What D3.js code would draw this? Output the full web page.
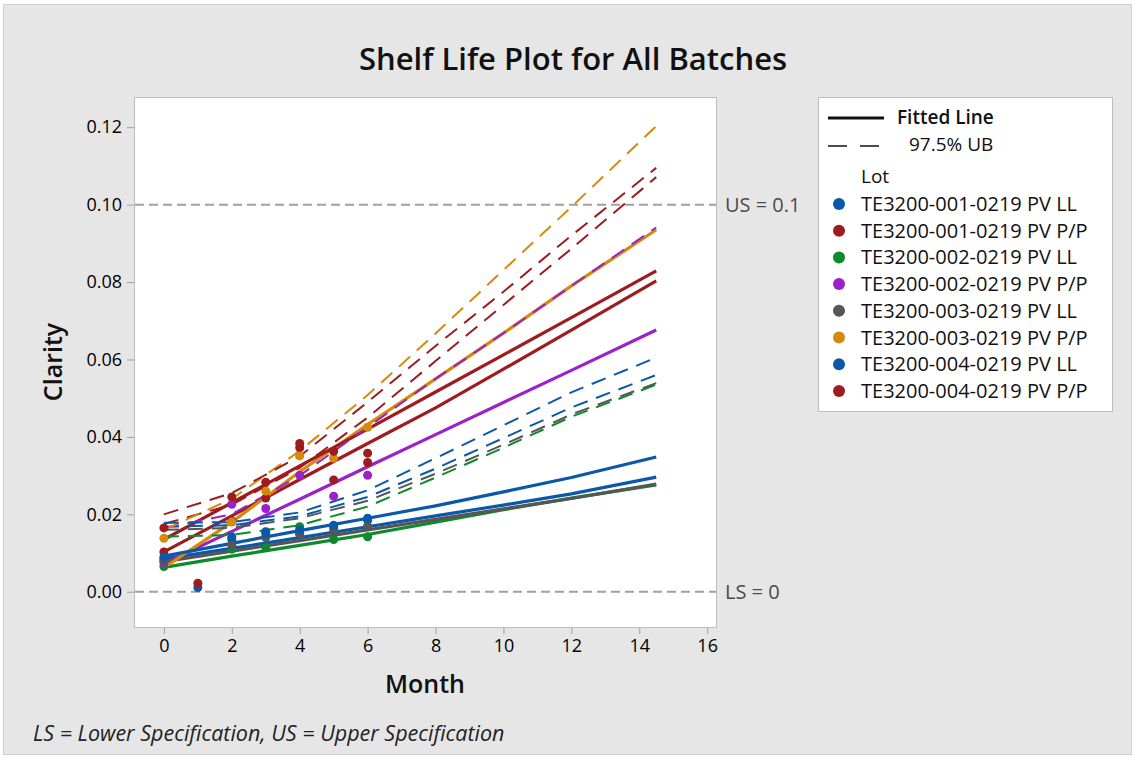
<!DOCTYPE html>
<meta charset="utf-8">
<script src="https://d3js.org/d3.v7.min.js"></script>
<style>
  body { margin: 0; background: #fff; font-family: 'Open Sans', sans-serif; }
  svg text { fill: #111; }
</style>
<div id="chart"></div>
<script>
// lots (legend order)
var lots = ["TE3200-001-0219 PV LL", "TE3200-001-0219 PV P/P", "TE3200-002-0219 PV LL",
            "TE3200-002-0219 PV P/P", "TE3200-003-0219 PV LL", "TE3200-003-0219 PV P/P",
            "TE3200-004-0219 PV LL", "TE3200-004-0219 PV P/P"];
var lotColors = ["#0b58a8", "#9e1b1e", "#0e8a2c", "#9a22c8", "#565656", "#d68a0b", "#0b58a8", "#9e1b1e"];

// observed clarity, months 0..6 (null = not measured)
var obsMonths = [0, 1, 2, 3, 4, 5, 6];
var obs001LL = [0.0085, 0.0011, 0.0135, 0.0155, 0.0150, 0.0165, 0.0185];
var obs001PP = [0.0103, 0.0022, 0.0183, 0.0242, 0.0372, 0.0289, 0.0334];
var obs002LL = [0.0065, null, 0.0110, 0.0114, 0.0168, 0.0135, 0.0142];
var obs002PP = [0.0075, null, 0.0226, 0.0215, 0.0301, 0.0247, 0.0301];
var obs003LL = [0.0080, null, 0.0120, 0.0140, 0.0150, 0.0155, 0.0170];
var obs003PP = [0.0138, null, 0.0180, 0.0260, 0.0351, 0.0345, 0.0425];
var obs004LL = [0.0090, null, 0.0142, 0.0150, 0.0160, 0.0172, 0.0190];
var obs004PP = [0.0165, null, 0.0245, 0.0283, 0.0383, 0.0363, 0.0358];

// fitted line and 97.5% upper bound, read at these months
var fitMonths = [0, 2, 4, 6, 8, 10, 12, 14.5];
var fit001LL = [0.0085, 0.0112, 0.0140, 0.0168, 0.0196, 0.0224, 0.0253, 0.0296];
var fit001PP = [0.0103, 0.0196, 0.0290, 0.0383, 0.0475, 0.0575, 0.0676, 0.0803];
var fit002LL = [0.0063, 0.0092, 0.0120, 0.0148, 0.0180, 0.0212, 0.0242, 0.0276];
var fit002PP = [0.0073, 0.0156, 0.0239, 0.0323, 0.0406, 0.0489, 0.0572, 0.0676];
var fit003LL = [0.0078, 0.0105, 0.0132, 0.0160, 0.0187, 0.0214, 0.0241, 0.0278];
var fit003PP = [0.0062, 0.0180, 0.0310, 0.0432, 0.0550, 0.0668, 0.0790, 0.0935];
var fit004LL = [0.0092, 0.0125, 0.0158, 0.0190, 0.0222, 0.0258, 0.0295, 0.0348];
var fit004PP = [0.0135, 0.0230, 0.0325, 0.0420, 0.0516, 0.0612, 0.0708, 0.0829];

var ub001LL = [0.0168, 0.0172, 0.0195, 0.0245, 0.0318, 0.0397, 0.0476, 0.0560];
var ub001PP = [0.0175, 0.0225, 0.0320, 0.0450, 0.0596, 0.0741, 0.0886, 0.1071];
var ub002LL = [0.0142, 0.0147, 0.0172, 0.0220, 0.0295, 0.0372, 0.0452, 0.0535];
var ub002PP = [0.0165, 0.0200, 0.0300, 0.0425, 0.0550, 0.0668, 0.0790, 0.0941];
var ub003LL = [0.0160, 0.0165, 0.0190, 0.0235, 0.0305, 0.0380, 0.0458, 0.0539];
var ub003PP = [0.0160, 0.0240, 0.0364, 0.0508, 0.0667, 0.0831, 0.0994, 0.1203];
var ub004LL = [0.0178, 0.0180, 0.0205, 0.0262, 0.0345, 0.0430, 0.0515, 0.0605];
var ub004PP = [0.0200, 0.0255, 0.0350, 0.0490, 0.0635, 0.0775, 0.0920, 0.1095];

var xTicks = [0, 2, 4, 6, 8, 10, 12, 14, 16];
var yTicks = [0, 0.02, 0.04, 0.06, 0.08, 0.10, 0.12];
var specLimits = [{label: "US = 0.1", value: 0.1}, {label: "LS = 0", value: 0}];

var obsAll = [obs001LL, obs001PP, obs002LL, obs002PP, obs003LL, obs003PP, obs004LL, obs004PP];
var fitAll = [fit001LL, fit001PP, fit002LL, fit002PP, fit003LL, fit003PP, fit004LL, fit004PP];
var ubAll  = [ub001LL, ub001PP, ub002LL, ub002PP, ub003LL, ub003PP, ub004LL, ub004PP];

var W = 1135, H = 759;
var plot = {left: 134, top: 97, right: 716, bottom: 627};

var svg = d3.select("#chart").append("svg")
    .attr("width", W).attr("height", H);

// background
svg.append("rect").attr("x", 3.5).attr("y", 4.5).attr("width", W - 7).attr("height", H - 9)
    .attr("fill", "#e6e6e6").attr("stroke", "#cfcfcf");

var x = d3.scaleLinear().domain([-0.88, 16.26]).range([plot.left, plot.right]);
var y = d3.scaleLinear().domain([-0.0091, 0.1278]).range([plot.bottom, plot.top]);

svg.append("rect")
    .attr("x", plot.left + 0.5).attr("y", plot.top + 0.5)
    .attr("width", plot.right - plot.left).attr("height", plot.bottom - plot.top)
    .attr("fill", "#fff").attr("stroke", "#bdbdbd");

// axes
var xAxis = svg.append("g")
    .attr("transform", "translate(0," + (plot.bottom + 1) + ")")
    .call(d3.axisBottom(x).tickValues(xTicks).tickSize(6).tickPadding(5).tickSizeOuter(0));
var yAxis = svg.append("g")
    .attr("transform", "translate(" + plot.left + ",0)")
    .call(d3.axisLeft(y).tickValues(yTicks).tickFormat(d3.format(".2f")).tickSize(7).tickPadding(5).tickSizeOuter(0));
[xAxis, yAxis].forEach(function(a) {
  a.select(".domain").remove();
  a.selectAll(".tick line").attr("stroke", "#a0a0a0");
  a.selectAll(".tick text").attr("font-size", 18).attr("font-family", "'Open Sans', sans-serif")
    .style("fill", "#000");
});

// spec limits
specLimits.forEach(function(s) {
  svg.append("line")
    .attr("x1", plot.left + 1).attr("x2", plot.right)
    .attr("y1", y(s.value)).attr("y2", y(s.value))
    .attr("stroke", "#a0a0a0").attr("stroke-width", 2).attr("stroke-dasharray", "9,5");
  svg.append("text")
    .attr("x", plot.right + 9).attr("y", y(s.value)).attr("dy", "0.35em")
    .attr("font-size", 20).style("fill", "#4a4a4a")
    .text(s.label);
});

var line = d3.line()
    .x(function(d) { return x(d[0]); })
    .y(function(d) { return y(d[1]); });

var plotG = svg.append("g");

// fitted lines
fitAll.forEach(function(vals, i) {
  plotG.append("path")
    .attr("d", line(fitMonths.map(function(m, j) { return [m, vals[j]]; })))
    .attr("fill", "none").attr("stroke", lotColors[i]).attr("stroke-width", 3.2);
});

// upper bounds
ubAll.forEach(function(vals, i) {
  plotG.append("path")
    .attr("d", line(fitMonths.map(function(m, j) { return [m, vals[j]]; })))
    .attr("fill", "none").attr("stroke", lotColors[i]).attr("stroke-width", 2)
    .attr("stroke-dasharray", "15,9");
});

// observations
obsAll.forEach(function(vals, i) {
  plotG.selectAll(null)
    .data(obsMonths.map(function(m, j) { return [m, vals[j]]; }).filter(function(d) { return d[1] != null; }))
    .enter().append("circle")
    .attr("cx", function(d) { return x(d[0]); })
    .attr("cy", function(d) { return y(d[1]); })
    .attr("r", 4.5)
    .attr("fill", lotColors[i]);
});

// titles
svg.append("text").attr("x", 573).attr("y", 70).attr("text-anchor", "middle")
    .attr("font-size", 31).attr("font-weight", 600).text("Shelf Life Plot for All Batches");
svg.append("text").attr("x", 425).attr("y", 693).attr("text-anchor", "middle")
    .attr("font-size", 25).attr("font-weight", 600).text("Month");
svg.append("text").attr("transform", "translate(62,362) rotate(-90)").attr("text-anchor", "middle")
    .attr("font-size", 25).attr("font-weight", 600).text("Clarity");
svg.append("text").attr("x", 33).attr("y", 741)
    .attr("font-size", 21.5).attr("font-style", "italic").style("fill", "#222")
    .text("LS = Lower Specification, US = Upper Specification");

// legend
var lg = svg.append("g");
lg.append("rect").attr("x", 818.5).attr("y", 97.5).attr("width", 294).attr("height", 314)
    .attr("fill", "#fff").attr("stroke", "#bdbdbd");
lg.append("line").attr("x1", 828).attr("x2", 884).attr("y1", 118).attr("y2", 118)
    .attr("stroke", "#111").attr("stroke-width", 3);
lg.append("text").attr("x", 897).attr("y", 117).attr("dy", "0.35em")
    .attr("font-size", 19).attr("font-weight", 600).text("Fitted Line");
lg.append("line").attr("x1", 828).attr("x2", 880).attr("y1", 146).attr("y2", 146)
    .attr("stroke", "#111").attr("stroke-width", 1.5).attr("stroke-dasharray", "19,13");
lg.append("text").attr("x", 909).attr("y", 144).attr("dy", "0.35em")
    .attr("font-size", 19).text("97.5% UB");
lg.append("text").attr("x", 861).attr("y", 176).attr("dy", "0.35em")
    .attr("font-size", 19).text("Lot");
lots.forEach(function(name, i) {
  var yy = 204 + i * 26.7;
  lg.append("circle").attr("cx", 839).attr("cy", yy).attr("r", 6).attr("fill", lotColors[i]);
  lg.append("text").attr("x", 861).attr("y", yy).attr("dy", "0.35em")
    .attr("font-size", 20).text(name);
});
</script>
